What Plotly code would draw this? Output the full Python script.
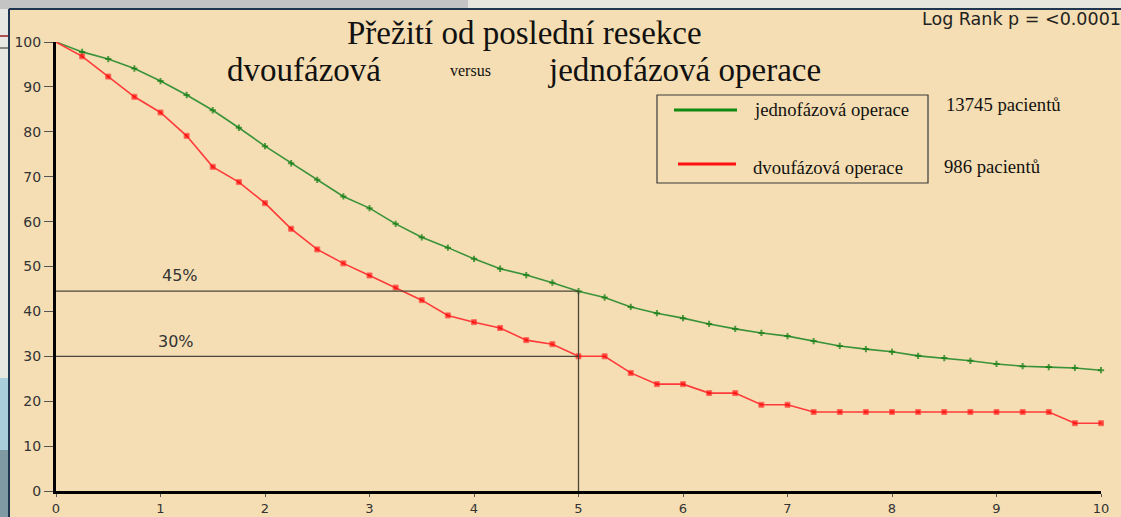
import plotly.graph_objects as go

# Follow-up time (years) at which survival is tabulated
years = [i * 0.25 for i in range(41)]

# Survival (%) after one-stage resection
one_stage = [100, 97.8, 96.2, 94.1, 91.3, 88.2, 84.8, 80.9, 76.8, 73.0,
             69.3, 65.6, 63.0, 59.5, 56.5, 54.2, 51.7, 49.5, 48.1, 46.4,
             44.5, 43.1, 41.0, 39.6, 38.5, 37.2, 36.1, 35.2, 34.5, 33.4,
             32.3, 31.6, 31.0, 30.1, 29.6, 29.0, 28.3, 27.8, 27.6, 27.4,
             26.9]

# Survival (%) after two-stage resection
two_stage = [100, 96.8, 92.3, 87.8, 84.3, 79.1, 72.2, 68.8, 64.1, 58.4,
             53.8, 50.7, 48.0, 45.3, 42.5, 39.1, 37.6, 36.3, 33.6, 32.7,
             30.0, 30.0, 26.3, 23.8, 23.8, 21.8, 21.8, 19.2, 19.2, 17.6,
             17.6, 17.6, 17.6, 17.6, 17.6, 17.6, 17.6, 17.6, 17.6, 15.1,
             15.1]

series_names = ["jednofázová operace", "dvoufázová operace"]
patient_counts = ["13745 pacientů", "986 pacientů"]

# 5-year survival read-offs
ref_year = 5
ref_levels = [44.5, 30.0]
ref_labels = ["45%", "30%"]

x_ticks = list(range(0, 11))
y_ticks = list(range(0, 101, 10))

W, H = 1121, 517
L, R, T, B = 56, 20, 42, 26
PW, PH = W - L - R, H - T - B


def px(x):
    return (x - L) / PW


def py(y):
    return (H - B - y) / PH


BG = "#F5DEB3"
SERIF = "Liberation Serif, Times New Roman, serif"
SANS = "DejaVu Sans, Arial, sans-serif"

# no marker on the common starting point
n = len(years)
green_sizes = [0] + [4.5] * (n - 1)
red_sizes = [0] + [5] * (n - 1)

fig = go.Figure()

fig.add_trace(go.Scatter(
    x=years, y=one_stage, mode="lines+markers", name=series_names[0],
    line=dict(color="#3a933a", width=1.6),
    marker=dict(symbol="cross-thin", size=green_sizes, line=dict(color="#0f7a0f", width=2)),
    cliponaxis=False, showlegend=False,
))
fig.add_trace(go.Scatter(
    x=years, y=two_stage, mode="lines+markers", name=series_names[1],
    line=dict(color="#ff3a3a", width=1.6),
    marker=dict(symbol="square", size=red_sizes, color="#ff0000"),
    cliponaxis=False, showlegend=False,
))

shapes = []
# slide frame around the chart panel
shapes.append(dict(type="rect", xref="paper", yref="paper", layer="below",
                   x0=px(0), x1=px(468), y0=py(0), y1=py(9),
                   fillcolor="#c4c4c4", line=dict(width=0)))
shapes.append(dict(type="rect", xref="paper", yref="paper", layer="below",
                   x0=px(468), x1=px(W), y0=py(0), y1=py(9),
                   fillcolor="#e6e6de", line=dict(width=0)))
shapes.append(dict(type="rect", xref="paper", yref="paper", layer="below",
                   x0=px(0), x1=px(9), y0=py(9), y1=py(378),
                   fillcolor="#e8e8e2", line=dict(width=0)))
shapes.append(dict(type="rect", xref="paper", yref="paper", layer="below",
                   x0=px(0), x1=px(9), y0=py(378), y1=py(450),
                   fillcolor="#a9d0da", line=dict(width=0)))
shapes.append(dict(type="rect", xref="paper", yref="paper", layer="below",
                   x0=px(0), x1=px(9), y0=py(450), y1=py(H),
                   fillcolor="#7f9aa3", line=dict(width=0)))
shapes.append(dict(type="line", xref="paper", yref="paper",
                   x0=px(0), x1=px(9), y0=py(36), y1=py(36),
                   line=dict(color="#9b1c1c", width=1.5)))
shapes.append(dict(type="line", xref="paper", yref="paper",
                   x0=px(0), x1=px(9), y0=py(48), y1=py(48),
                   line=dict(color="#222222", width=1)))
shapes.append(dict(type="line", xref="paper", yref="paper",
                   x0=px(9), x1=px(W), y0=py(9), y1=py(9),
                   line=dict(color="#1f3550", width=2)))
shapes.append(dict(type="line", xref="paper", yref="paper",
                   x0=px(9), x1=px(9), y0=py(9), y1=py(H),
                   line=dict(color="#1f3550", width=2)))

# 5-year reference lines
for lvl in ref_levels:
    shapes.append(dict(type="line", xref="x", yref="y",
                       x0=0, x1=ref_year, y0=lvl, y1=lvl,
                       line=dict(color="#4a4538", width=1.3)))
shapes.append(dict(type="line", xref="x", yref="y",
                   x0=ref_year, x1=ref_year, y0=ref_levels[0], y1=0,
                   line=dict(color="#4a4538", width=1.3)))

# legend box
shapes.append(dict(type="rect", xref="paper", yref="paper",
                   x0=px(657), x1=px(928), y0=py(95), y1=py(183),
                   line=dict(color="#3a3a3a", width=1.2)))
shapes.append(dict(type="line", xref="paper", yref="paper",
                   x0=px(674), x1=px(737), y0=py(110), y1=py(110),
                   line=dict(color="#108a10", width=3)))
shapes.append(dict(type="line", xref="paper", yref="paper",
                   x0=px(678), x1=px(736), y0=py(164), y1=py(164),
                   line=dict(color="#ff1010", width=3)))

annotations = []


def add_text(text, x, y, size, family, xanchor="left", color="#111111"):
    annotations.append(dict(text=text, xref="paper", yref="paper",
                            x=px(x), y=py(y), xanchor=xanchor, yanchor="middle",
                            showarrow=False, font=dict(size=size, family=family, color=color)))


add_text("Přežití od poslední resekce", 524, 33, 33, SERIF, xanchor="center")
add_text("dvoufázová", 225, 70, 33, SERIF)
add_text("versus", 470, 70, 16, SERIF, xanchor="center")
add_text("jednofázová operace", 546, 70, 33, SERIF)
add_text("Log Rank p = <0.0001", 920, 19, 17.5, SANS, color="#222222")
add_text(series_names[0], 752, 109, 18.7, SERIF)
add_text(series_names[1], 751, 167, 18.7, SERIF)
add_text(patient_counts[0], 944, 104, 18.7, SERIF)
add_text(patient_counts[1], 942, 166, 18.7, SERIF)

for lvl, lab, lx, ly in zip(ref_levels, ref_labels, [1.19, 1.15], [48.1, 33.4]):
    annotations.append(dict(text=lab, x=lx, y=ly, xref="x", yref="y",
                            showarrow=False, xanchor="center", yanchor="middle",
                            font=dict(size=16, family=SANS, color="#333333")))

fig.update_layout(
    width=W, height=H,
    margin=dict(l=L, r=R, t=T, b=B),
    paper_bgcolor=BG, plot_bgcolor=BG,
    shapes=shapes, annotations=annotations,
    showlegend=False,
    xaxis=dict(range=[0, 10], tickvals=x_ticks, showgrid=False, zeroline=False,
               automargin=False,
               showline=True, linecolor="black", linewidth=3,
               ticks="outside", ticklen=3, tickcolor="#555555", tickwidth=1.2,
               tickfont=dict(size=13, family=SANS, color="#333333")),
    yaxis=dict(range=[0, 100], tickvals=y_ticks, showgrid=False, zeroline=False,
               automargin=False,
               showline=True, linecolor="black", linewidth=3,
               ticks="outside", ticklen=9, tickcolor="#555555", tickwidth=1.2,
               tickfont=dict(size=14, family=SANS, color="#333333")),
)

fig.write_html("out.html")
